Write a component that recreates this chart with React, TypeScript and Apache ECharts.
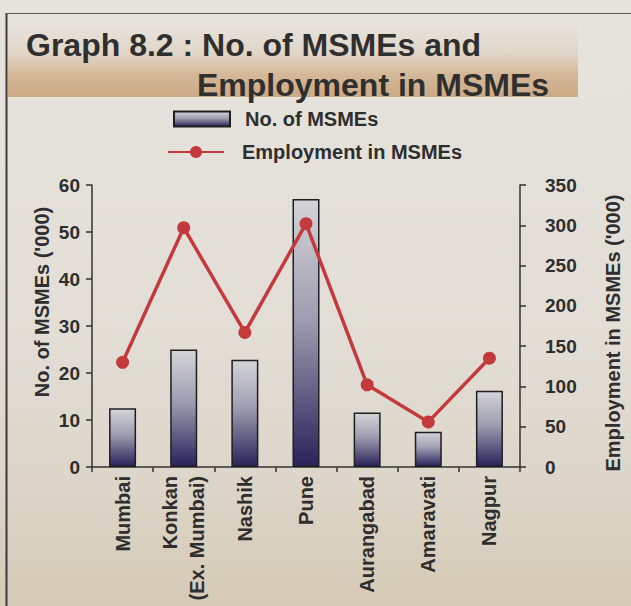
import React, { useEffect, useRef } from "react";
import * as echarts from "echarts";

// Regions of Maharashtra
const categories = [
  "Mumbai",
  "Konkan\n(Ex. Mumbai)",
  "Nashik",
  "Pune",
  "Aurangabad",
  "Amaravati",
  "Nagpur",
];

// Number of MSMEs ('000)
const msmeCount = [12.5, 25, 22.8, 57, 11.6, 7.5, 16.2];

// Employment in MSMEs ('000)
const employment = [130, 297, 167, 302, 102, 56, 135];

// Axis scales
const leftMax = 60;
const leftStep = 10;
const rightMax = 350;
const rightStep = 50;

const titleLine1 = "Graph 8.2 : No. of MSMEs and";
const titleLine2 = "Employment in MSMEs";
const leftAxisName = "No. of MSMEs ('000)";
const rightAxisName = "Employment in MSMEs ('000)";

const FONT = "'Liberation Sans', Arial, Helvetica, sans-serif";
const INK = "#2e2e2e";

export default function App() {
  const ref = useRef<HTMLDivElement>(null);

  useEffect(() => {
    if (!ref.current) return;
    const chart = echarts.init(ref.current, null, { renderer: "svg" });

    const barFill = new echarts.graphic.LinearGradient(0, 0, 0, 1, [
      { offset: 0, color: "#d4d4d8" },
      { offset: 0.45, color: "#9e9cb0" },
      { offset: 1, color: "#28235a" },
    ]);

    const bandFill = new echarts.graphic.LinearGradient(0, 0, 0, 1, [
      { offset: 0, color: "rgba(205,170,130,0)" },
      { offset: 0.4, color: "rgba(205,165,120,0.2)" },
      { offset: 0.7, color: "rgba(200,155,105,0.6)" },
      { offset: 1, color: "rgba(195,150,105,0.75)" },
    ]);

    const axisLineStyle = { color: "#333", width: 1.5 };

    chart.setOption({
      animation: false,
      backgroundColor: "transparent",
      textStyle: { fontFamily: FONT },
      grid: { left: 92, right: 111, top: 185, bottom: 139, containLabel: false },
      legend: [
        {
          data: ["No. of MSMEs"],
          left: 173,
          top: 109,
          itemWidth: 56,
          itemHeight: 15,
          icon: "rect",
          padding: 0,
          textStyle: {
            fontFamily: FONT,
            fontSize: 20,
            fontWeight: "bold",
            color: INK,
            padding: [0, 0, 0, 10],
          },
        },
        {
          data: ["Employment in MSMEs"],
          left: 167,
          top: 142,
          itemWidth: 56,
          itemHeight: 15,
          padding: 0,
          textStyle: {
            fontFamily: FONT,
            fontSize: 20,
            fontWeight: "bold",
            color: INK,
            padding: [0, 0, 0, 13],
          },
        },
      ],
      xAxis: {
        type: "category",
        data: categories,
        axisLine: { show: true, lineStyle: axisLineStyle },
        axisTick: { show: true, alignWithLabel: false, length: 5, lineStyle: axisLineStyle },
        axisLabel: {
          rotate: 90,
          margin: 9,
          interval: 0,
          fontFamily: FONT,
          fontSize: 20,
          fontWeight: "bold",
          color: INK,
          lineHeight: 27,
        },
      },
      yAxis: [
        {
          type: "value",
          min: 0,
          max: leftMax,
          interval: leftStep,
          position: "left",
          splitLine: { show: false },
          axisLine: { show: true, lineStyle: axisLineStyle },
          axisTick: { show: true, length: 6, lineStyle: axisLineStyle },
          axisLabel: {
            margin: 12,
            fontFamily: FONT,
            fontSize: 19,
            fontWeight: "bold",
            color: INK,
          },
        },
        {
          type: "value",
          min: 0,
          max: rightMax,
          interval: rightStep,
          position: "right",
          splitLine: { show: false },
          axisLine: { show: true, lineStyle: axisLineStyle },
          axisTick: { show: true, length: 6, lineStyle: axisLineStyle },
          axisLabel: {
            margin: 25,
            fontFamily: FONT,
            fontSize: 19,
            fontWeight: "bold",
            color: INK,
          },
        },
      ],
      series: [
        {
          name: "No. of MSMEs",
          type: "bar",
          yAxisIndex: 0,
          data: msmeCount,
          barWidth: 27,
          itemStyle: { color: barFill, borderColor: "#1e1e22", borderWidth: 1.5 },
        },
        {
          name: "Employment in MSMEs",
          type: "line",
          yAxisIndex: 1,
          data: employment,
          symbol: "circle",
          symbolSize: 13,
          lineStyle: { color: "#c43a3c", width: 3.5 },
          itemStyle: { color: "#c43a3c" },
          z: 5,
        },
      ],
      graphic: [
        // frame
        {
          type: "line",
          shape: { x1: 6.5, y1: 13, x2: 6.5, y2: 606 },
          style: { stroke: "#3a3a3a", lineWidth: 2 },
        },
        {
          type: "line",
          shape: { x1: 6, y1: 13.5, x2: 631, y2: 13.5 },
          style: { stroke: "#5a5a5a", lineWidth: 1.2 },
        },
        // title band
        {
          type: "rect",
          shape: { x: 8, y: 22, width: 570, height: 75 },
          style: { fill: bandFill },
          z: -1,
        },
        {
          type: "text",
          x: 26,
          y: 45,
          style: {
            text: titleLine1,
            fontFamily: FONT,
            fontSize: 32,
            fontWeight: "bold",
            fill: "#2f2f2f",
            align: "left",
            verticalAlign: "middle",
          },
        },
        {
          type: "text",
          x: 197,
          y: 84.5,
          style: {
            text: titleLine2,
            fontFamily: FONT,
            fontSize: 32,
            fontWeight: "bold",
            fill: "#2f2f2f",
            align: "left",
            verticalAlign: "middle",
          },
        },
        // axis names
        {
          type: "text",
          x: 42,
          y: 302,
          rotation: Math.PI / 2,
          style: {
            text: leftAxisName,
            fontFamily: FONT,
            fontSize: 20,
            fontWeight: "bold",
            fill: INK,
            align: "center",
            verticalAlign: "middle",
          },
        },
        {
          type: "text",
          x: 613,
          y: 333,
          rotation: Math.PI / 2,
          style: {
            text: rightAxisName,
            fontFamily: FONT,
            fontSize: 20,
            fontWeight: "bold",
            fill: INK,
            align: "center",
            verticalAlign: "middle",
          },
        },
      ],
    });

    return () => chart.dispose();
  }, []);

  return (
    <div
      ref={ref}
      style={{
        position: "absolute",
        left: 0,
        top: 0,
        width: 631,
        height: 606,
        background:
          "linear-gradient(180deg, #e7e4de 0%, #e2ded6 55%, #ddd6ca 78%, #d6cab6 100%)",
      }}
    />
  );
}
